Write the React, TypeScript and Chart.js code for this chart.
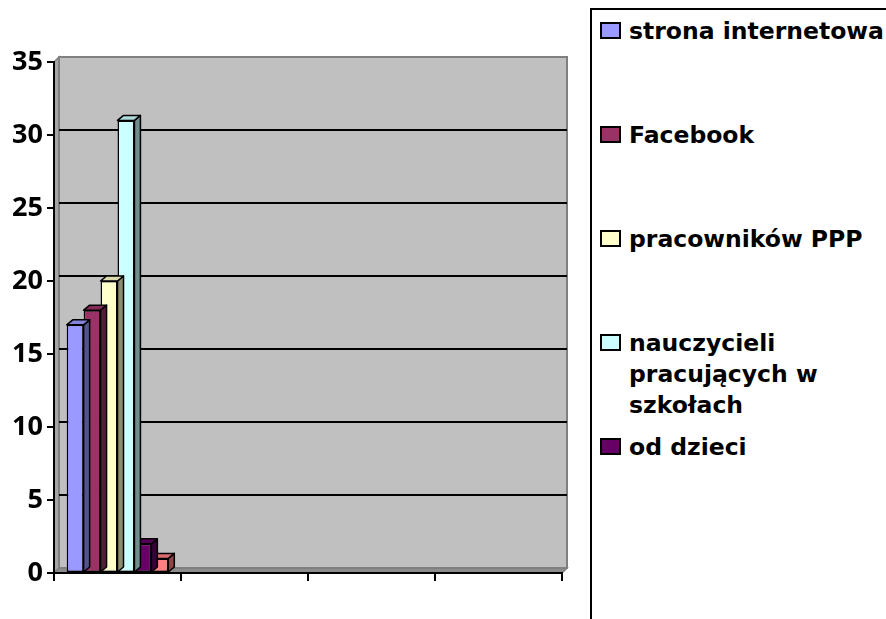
import React, { useEffect, useRef } from "react";
import { Chart, registerables } from "chart.js";

Chart.register(...registerables);

// ---- data ----
const categories = ["", "", "", ""];
const seriesNames = [
  "strona internetowa",
  "Facebook",
  "pracowników PPP",
  "nauczycieli pracujących w szkołach",
  "od dzieci",
  "",
];
const seriesColors = ["#9999FF", "#993366", "#FFFFCC", "#CCFFFF", "#660066", "#FF8080"];
const stronaInternetowa = [17, null, null, null];
const facebook = [18, null, null, null];
const pracownikowPPP = [20, null, null, null];
const nauczycieli = [31, null, null, null];
const odDzieci = [2, null, null, null];
const inne = [1, null, null, null];
const seriesValues = [stronaInternetowa, facebook, pracownikowPPP, nauczycieli, odDzieci, inne];
const yMin = 0;
const yMax = 35;
const yStep = 5;

// ---- styling ----
const WX = 5;
const WY = -5;
const BX = 6;
const BY = -5;

function shade(hex: string, f: number) {
  const n = parseInt(hex.slice(1), 16);
  const r = Math.round(((n >> 16) & 255) * f);
  const g = Math.round(((n >> 8) & 255) * f);
  const b = Math.round((n & 255) * f);
  return `rgb(${r},${g},${b})`;
}

const wallPlugin = {
  id: "wall3d",
  beforeDraw(chart: any) {
    const { ctx, chartArea: a, scales } = chart;
    const y = scales.y;
    ctx.save();
    // side wall
    ctx.fillStyle = "#A6A6A6";
    ctx.strokeStyle = "#808080";
    ctx.lineWidth = 1.5;
    ctx.beginPath();
    ctx.moveTo(a.left, a.top);
    ctx.lineTo(a.left + WX, a.top + WY);
    ctx.lineTo(a.left + WX, a.bottom + WY);
    ctx.lineTo(a.left, a.bottom);
    ctx.closePath();
    ctx.fill();
    ctx.stroke();
    // floor
    ctx.fillStyle = "#8C8C8C";
    ctx.beginPath();
    ctx.moveTo(a.left, a.bottom);
    ctx.lineTo(a.left + WX, a.bottom + WY);
    ctx.lineTo(a.right + WX, a.bottom + WY);
    ctx.lineTo(a.right, a.bottom);
    ctx.closePath();
    ctx.fill();
    ctx.stroke();
    // back wall
    ctx.fillStyle = "#C0C0C0";
    ctx.fillRect(a.left + WX, a.top + WY, a.right - a.left, a.bottom - a.top);
    ctx.lineWidth = 2;
    ctx.strokeRect(a.left + WX, a.top + WY, a.right - a.left, a.bottom - a.top);
    // gridlines on back wall
    ctx.strokeStyle = "#000000";
    ctx.lineWidth = 2;
    y.ticks.forEach((t: any) => {
      if (t.value <= yMin || t.value >= yMax) return;
      const py = Math.round(y.getPixelForValue(t.value) + WY);
      ctx.beginPath();
      ctx.moveTo(a.left + WX, py);
      ctx.lineTo(a.right + WX, py);
      ctx.stroke();
    });
    ctx.restore();
  },
  beforeDatasetDraw(chart: any, args: any) {
    const { ctx } = chart;
    const meta = args.meta;
    const color = seriesColors[args.index];
    const raw = chart.data.datasets[args.index].data;
    ctx.save();
    ctx.strokeStyle = "#000000";
    ctx.lineWidth = 1.5;
    ctx.lineJoin = "round";
    meta.data.forEach((bar: any, j: number) => {
      if (raw[j] === null || raw[j] === undefined) return;
      const p = bar.getProps(["x", "y", "base", "width"], true);
      if (!isFinite(p.y) || !isFinite(p.base)) return;
      const x0 = p.x - p.width / 2;
      const x1 = p.x + p.width / 2;
      // side
      ctx.fillStyle = shade(color, 0.55);
      ctx.beginPath();
      ctx.moveTo(x1, p.y);
      ctx.lineTo(x1 + BX, p.y + BY);
      ctx.lineTo(x1 + BX, p.base + BY);
      ctx.lineTo(x1, p.base);
      ctx.closePath();
      ctx.fill();
      ctx.stroke();
      // top
      ctx.fillStyle = shade(color, 0.85);
      ctx.beginPath();
      ctx.moveTo(x0, p.y);
      ctx.lineTo(x0 + BX, p.y + BY);
      ctx.lineTo(x1 + BX, p.y + BY);
      ctx.lineTo(x1, p.y);
      ctx.closePath();
      ctx.fill();
      ctx.stroke();
    });
    ctx.restore();
  },
};

export default function App() {
  const canvasRef = useRef<HTMLCanvasElement | null>(null);

  useEffect(() => {
    const canvas = canvasRef.current;
    if (!canvas) return;
    const chart = new Chart(canvas, {
      type: "bar",
      data: {
        labels: categories,
        datasets: seriesValues.map((vals, i) => ({
          label: seriesNames[i],
          data: vals,
          backgroundColor: seriesColors[i],
          borderColor: "#000000",
          borderWidth: 1.5,
          borderSkipped: false,
          barPercentage: 1,
          categoryPercentage: 0.8,
        })),
      },
      options: {
        responsive: false,
        animation: false,
        devicePixelRatio: 1,
        layout: { padding: { top: 62, right: 28, left: 0, bottom: 0 } },
        plugins: {
          legend: { display: false },
          tooltip: { enabled: false },
        },
        scales: {
          x: {
            offset: true,
            grid: {
              display: true,
              offset: true,
              drawOnChartArea: false,
              drawTicks: true,
              tickLength: 8,
              color: "#000000",
              lineWidth: 2,
            },
            border: { display: true, color: "#000000", width: 2 },
            ticks: { display: true, font: { size: 1 } },
            afterFit: (s: any) => {
              s.height = 46;
            },
          },
          y: {
            min: yMin,
            max: yMax,
            ticks: {
              stepSize: yStep,
              color: "#000000",
              padding: 4,
              font: { family: "'Open Sans'", size: 27, weight: "bold" },
            },
            grid: {
              display: true,
              drawOnChartArea: false,
              drawTicks: true,
              tickLength: 7,
              color: "#000000",
              lineWidth: 2,
            },
            border: { display: true, color: "#000000", width: 2 },
            afterFit: (s: any) => {
              s.width = 54;
            },
          },
        },
      },
      plugins: [wallPlugin],
    } as any);
    return () => chart.destroy();
  }, []);

  const legendItems = seriesNames
    .map((name, i) => ({ name, color: seriesColors[i] }))
    .filter((it) => it.name !== "");

  return (
    <div
      style={{
        position: "fixed",
        left: 0,
        top: 0,
        width: 886,
        height: 619,
        overflow: "hidden",
        background: "#FFFFFF",
      }}
    >
      <canvas
        ref={canvasRef}
        width={590}
        height={619}
        style={{ position: "absolute", left: 0, top: 0, width: 590, height: 619 }}
      />
      <div
        style={{
          position: "absolute",
          left: 590,
          top: 8,
          width: 320,
          height: 640,
          border: "2px solid #000000",
          background: "#FFFFFF",
          boxSizing: "border-box",
        }}
      >
        {legendItems.map((it, i) => (
          <div
            key={i}
            style={{ position: "absolute", left: 0, top: 5.5 + 104 * i, width: 320 }}
          >
            <div
              style={{
                position: "absolute",
                left: 8,
                top: 6,
                width: 21,
                height: 17,
                boxSizing: "border-box",
                border: "2px solid #000000",
                background: it.color,
              }}
            />
            <div
              style={{
                position: "absolute",
                left: 37,
                top: 0,
                width: 262,
                fontFamily: "'DejaVu Sans'",
                fontWeight: "bold",
                fontSize: 23.5,
                lineHeight: "31px",
                color: "#000000",
              }}
            >
              {it.name}
            </div>
          </div>
        ))}
      </div>
    </div>
  );
}
